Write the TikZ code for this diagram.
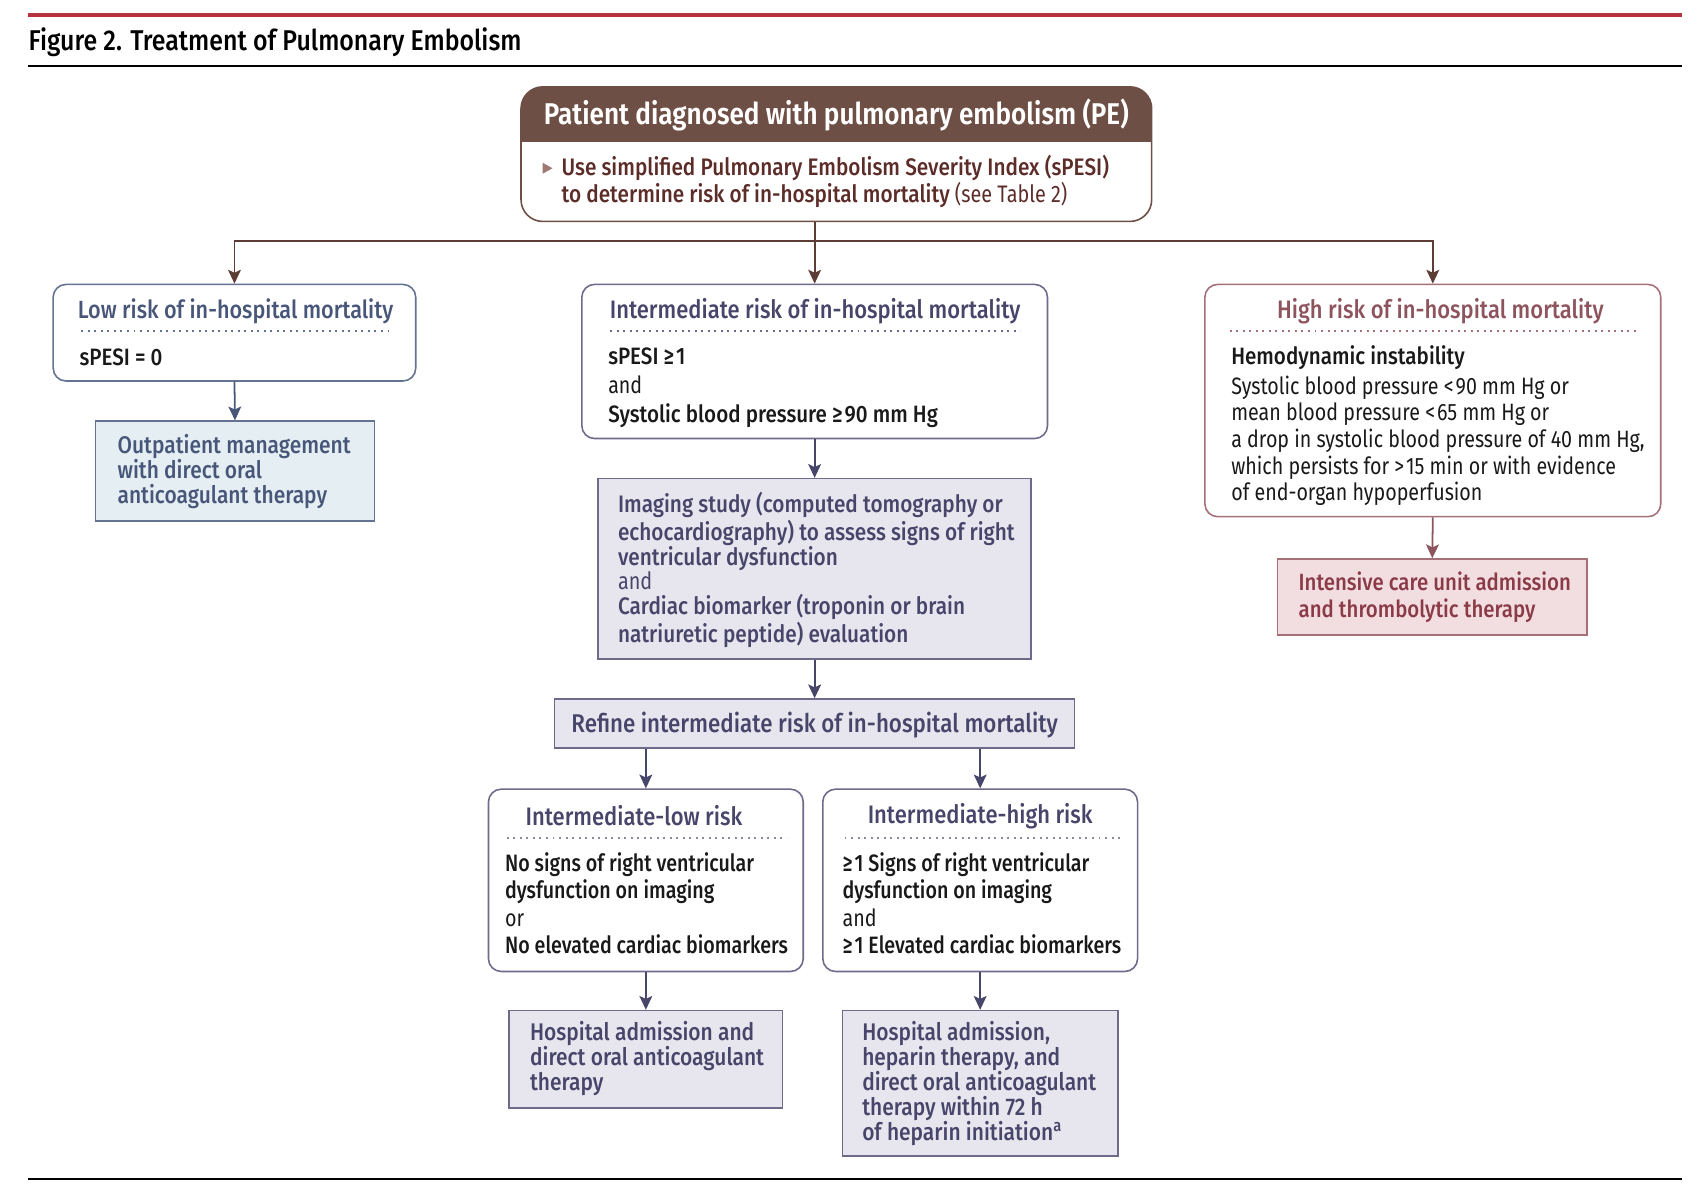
\documentclass[tikz,border=0pt]{standalone}
\usepackage{fontspec}
\setmainfont{Fira Sans}[FakeStretch=0.83]
\newfontfamily\fmed{Fira Sans Medium}[FakeStretch=0.87]
\newfontfamily\fmednarrow{Fira Sans Medium}[FakeStretch=0.83]
\newfontfamily\fsemi{Fira Sans SemiBold}[FakeStretch=0.87]
\usetikzlibrary{arrows.meta,fit}

\definecolor{jamared}{RGB}{181,52,63}
\definecolor{pebrown}{RGB}{110,79,69}
\definecolor{pearrow}{RGB}{92,60,52}
\definecolor{petext}{RGB}{92,44,40}
\definecolor{pebullet}{RGB}{160,120,115}
\definecolor{lowblue}{RGB}{72,87,121}
\definecolor{lowline}{RGB}{100,115,145}
\definecolor{lowfill}{RGB}{229,238,242}
\definecolor{midpurple}{RGB}{72,69,106}
\definecolor{midline}{RGB}{110,106,138}
\definecolor{midfill}{RGB}{231,230,238}
\definecolor{highrose}{RGB}{142,84,94}
\definecolor{highline}{RGB}{165,112,120}
\definecolor{highfill}{RGB}{242,222,224}
\definecolor{hightext}{RGB}{139,58,72}
\definecolor{bodyink}{RGB}{25,25,25}

\tikzset{
  riskbox/.style={draw, rounded corners=6.5pt, line width=0.8pt, inner sep=0pt},
  stepbox/.style={draw, line width=0.8pt, inner sep=0pt},
  boxtitle/.style={font=\fmed\fontsize{12.8}{14}\selectfont, inner sep=0pt},
  boxtext/.style={align=left, inner sep=0pt, anchor=west},
  flow/.style={-{Stealth[length=7pt,width=6.5pt,inset=1.5pt]}, line width=0.9pt},
  dotsep/.style={line width=1pt, dash pattern=on 1pt off 2.3pt}
}

\begin{document}
\begin{tikzpicture}[x=0.55pt, y=-0.55pt]
    \useasboundingbox (0,0) rectangle (1568,1093);

    % figure heading and rules
    \fill[jamared] (26,12) rectangle (1550,16);
    \node[anchor=west, inner sep=0pt, font=\fmed\fontsize{14.5}{17}\selectfont] (figtitle) at (26,39)
      {Figure 2. Treatment of Pulmonary Embolism};
    \draw[line width=0.8pt] (26,61) -- (1550,61);
    \draw[line width=0.8pt] (26,1086) -- (1550,1086);

    % patient diagnosed with PE
    \begin{scope}
      \clip[rounded corners=11pt] (480,80) rectangle (1061,204);
      \fill[pebrown] (480,80) rectangle (1061,131);
    \end{scope}
    \node[fit={(480,80) (1061,204)}, draw=pebrown, rounded corners=11pt, line width=0.8pt, inner sep=0pt] (pe) {};
    \node[text=white, inner sep=0pt, font=\fsemi\fontsize{15.2}{17}\selectfont] (pehead) at (770.5,106)
      {Patient diagnosed with pulmonary embolism (PE)};
    \fill[pebullet] (500,150) -- (509,155) -- (500,160) -- cycle;
    \node[boxtext, text=petext, font=\fmed\fontsize{12.1}{12.65}\selectfont] (pebody) at (517,167)
      {Use simplified Pulmonary Embolism Severity Index (sPESI)\\
       to determine risk of in-hospital mortality {\rmfamily(see Table 2)}};

    % low risk
    \node[riskbox, draw=lowline, fit={(49,262) (383,351)}] (low) {};
    \node[boxtitle, text=lowblue, font=\fmed\fontsize{12.6}{14}\selectfont] (lowtitle) at (217,286.5)
      {Low risk of in-hospital mortality};
    \draw[dotsep, lowline] (75,305) -- (360,305);
    \node[boxtext, text=bodyink, font=\fmed\fontsize{12}{12.65}\selectfont] (lowbody) at (73,329.5) {sPESI = 0};
    \node[stepbox, draw=lowline, fill=lowfill, fit={(88,388) (345,480)}] (outpt) {};
    \node[boxtext, text=lowblue, font=\fmed\fontsize{12.2}{12.65}\selectfont] (outtext) at (108,434.5)
      {Outpatient management\\with direct oral\\anticoagulant therapy};

    % intermediate risk
    \node[riskbox, draw=midline, fit={(536,262) (965,404)}] (mid) {};
    \node[boxtitle, text=midpurple] (midtitle) at (751,286.5) {Intermediate risk of in-hospital mortality};
    \draw[dotsep, midline] (562,305) -- (940,305);
    \node[boxtext, text=bodyink, font=\fmed\fontsize{12}{14.6}\selectfont] (midbody) at (560,357)
      {sPESI ≥\kern1pt1\\{\rmfamily and}\\Systolic blood pressure ≥\kern1pt90 mm Hg};
    \node[stepbox, draw=midline, fill=midfill, fit={(551,441) (950,607)}] (imaging) {};
    \node[boxtext, text=midpurple, font=\fmed\fontsize{12.1}{12.6}\selectfont] (imgtext) at (569,525)
      {Imaging study (computed tomography or\\echocardiography) to assess signs of right\\ventricular dysfunction\\
       {\rmfamily and}\\Cardiac biomarker (troponin or brain\\natriuretic peptide) evaluation};
    \node[stepbox, draw=midline, fill=midfill, fit={(511,644) (990,689)}] (refine) {};
    \node[boxtitle, text=midpurple, font=\fmed\fontsize{13}{14}\selectfont] (reftext) at (750.5,668)
      {Refine intermediate risk of in-hospital mortality};

    \node[riskbox, draw=midline, fit={(450,727) (740,895)}] (ilow) {};
    \node[boxtitle, text=midpurple] (ilowtitle) at (584,751.5) {Intermediate-low risk};
    \draw[dotsep, midline!80] (467,772) -- (725,772);
    \node[boxtext, text=bodyink, font=\fmednarrow\fontsize{12}{13.9}\selectfont] (ilowbody) at (465,832)
      {No signs of right ventricular\\dysfunction on imaging\\{\rmfamily or}\\No elevated cardiac biomarkers};
    \node[riskbox, draw=midline, fit={(758,727) (1048,895)}] (ihigh) {};
    \node[boxtitle, text=midpurple] (ihightitle) at (903,751.5) {Intermediate-high risk};
    \draw[dotsep, midline!80] (778,772) -- (1035,772);
    \node[boxtext, text=bodyink, font=\fmednarrow\fontsize{12}{13.9}\selectfont] (ihighbody) at (776,832)
      {≥\kern1pt1 Signs of right ventricular\\dysfunction on imaging\\{\rmfamily and}\\≥\kern1pt1 Elevated cardiac biomarkers};

    \node[stepbox, draw=midline, fill=midfill, fit={(469,931) (721,1021)}] (hosplow) {};
    \node[boxtext, text=midpurple, font=\fmed\fontsize{12.2}{12.65}\selectfont] (hosplowtext) at (488,975.5)
      {Hospital admission and\\direct oral anticoagulant\\therapy};
    \node[stepbox, draw=midline, fill=midfill, fit={(776,931) (1030,1065)}] (hosphigh) {};
    \node[boxtext, text=midpurple, font=\fmed\fontsize{12.2}{12.65}\selectfont] (hosphightext) at (794,998)
      {Hospital admission,\\heparin therapy, and\\direct oral anticoagulant\\therapy within 72 h\\
       of heparin initiation\textsuperscript{a}};

    % high risk
    \node[riskbox, draw=highline, fit={(1110,262) (1530,476)}] (high) {};
    \node[boxtitle, text=highrose] (hightitle) at (1327,286.5) {High risk of in-hospital mortality};
    \draw[dotsep, highline] (1133,305) -- (1507,305);
    \node[boxtext, text=bodyink, font=\fmed\fontsize{12}{12.65}\selectfont] (hemo) at (1134,329.5) {Hemodynamic instability};
    \node[boxtext, text=bodyink, font=\fontsize{12}{13.5}\selectfont] (hemobody) at (1134,406)
      {Systolic blood pressure <\kern1pt90 mm Hg or\\mean blood pressure <\kern1pt65 mm Hg or\\
       a drop in systolic blood pressure of 40 mm Hg,\\which persists for >\kern1pt15 min or with evidence\\
       of end-organ hypoperfusion};
    \node[stepbox, draw=highline, fill=highfill, fit={(1177,515) (1462,585)}] (icu) {};
    \node[boxtext, text=hightext, font=\fmed\fontsize{11.9}{13.75}\selectfont] (icutext) at (1196,550)
      {Intensive care unit admission\\and thrombolytic therapy};

    % connectors
    \coordinate (split) at (751,222);
    \draw[flow, pearrow] (pe.south -| mid.north) -- (mid.north);
    \draw[flow, pearrow] (split) -| (low.north);
    \draw[flow, pearrow] (split) -| (high.north);
    \path[every edge/.style={draw=lowblue, flow}]
      (low.south) edge (outpt.north);
    \path[every edge/.style={draw=midpurple, flow}]
      (mid.south) edge (imaging.north)
      (imaging.south) edge (refine.north)
      (refine.south -| ilow.north) edge (ilow.north)
      (refine.south -| ihigh.north) edge (ihigh.north)
      (ilow.south) edge (hosplow.north)
      (ihigh.south) edge (hosphigh.north);
    \path[every edge/.style={draw=highrose, flow}]
      (high.south) edge (icu.north);
\end{tikzpicture}
\end{document}
